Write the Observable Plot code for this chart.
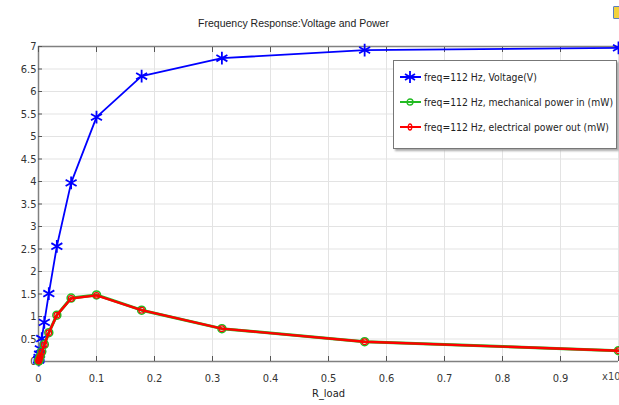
<!DOCTYPE html>
<html>
<head>
<meta charset="utf-8">
<script src="https://cdn.jsdelivr.net/npm/d3@7"></script>
<script src="https://cdn.jsdelivr.net/npm/@observablehq/plot@0.6"></script>
<style>
  html, body { margin: 0; padding: 0; background: #fff; }
  #wrap { position: relative; width: 619px; height: 405px; overflow: hidden; font-family: "DejaVu Sans Condensed", "DejaVu Sans", sans-serif; }
  #legend { position: absolute; left: 393px; top: 60px; width: 222px; height: 87px; background: #fff; border: 1px solid #777; box-shadow: 2px 2px 2px #aaa; font-size: 10.3px; color: #222; }
  .row { position: absolute; left: 6px; height: 14px; display: flex; align-items: center; white-space: nowrap; }
  .row svg { margin-right: 3px; }
  #icon { position: absolute; left: 613px; top: 6px; width: 8px; height: 11px; background: #f2d23c; border: 1px solid #5a7fc0; border-radius: 1px; }
</style>
</head>
<body>
<div id="wrap"></div>
<script>
const title = "Frequency Response:Voltage and Power";
const xLabel = "R_load";
const rLoad = [1, 0.5623, 0.3162, 0.1778, 0.1, 0.05623, 0.03162, 0.01778, 0.01, 0.005623, 0.003162, 0.001778, 0.001, 0.000562, 0.000316];
const voltage = [6.97, 6.92, 6.74, 6.34, 5.43, 3.97, 2.56, 1.51, 0.87, 0.51, 0.28, 0.16, 0.09, 0.05, 0.03];
const mechPower = [0.24, 0.44, 0.73, 1.14, 1.48, 1.41, 1.03, 0.64, 0.38, 0.22, 0.12, 0.07, 0.04, 0.02, 0.01];
const elecPower = [0.24, 0.44, 0.73, 1.14, 1.47, 1.40, 1.03, 0.64, 0.37, 0.21, 0.12, 0.07, 0.04, 0.02, 0.01];
const xTicks = [0, 0.1, 0.2, 0.3, 0.4, 0.5, 0.6, 0.7, 0.8, 0.9];
const xTicksAll = [0, 0.1, 0.2, 0.3, 0.4, 0.5, 0.6, 0.7, 0.8, 0.9, 1];
const yTicks = [0, 0.5, 1, 1.5, 2, 2.5, 3, 3.5, 4, 4.5, 5, 5.5, 6, 6.5, 7];
const legendLabels = ["freq=112 Hz, Voltage(V)", "freq=112 Hz, mechanical power in (mW)", "freq=112 Hz, electrical power out (mW)"];
const colors = ["#0000ff", "#22bb22", "#ff0000"];

const vData = rLoad.map((x, i) => ({x, y: voltage[i]}));
const mData = rLoad.map((x, i) => ({x, y: mechPower[i]}));
const eData = rLoad.map((x, i) => ({x, y: elecPower[i]}));

const chart = Plot.plot({
  width: 619,
  height: 405,
  marginTop: 46,
  marginLeft: 38,
  marginRight: 1,
  marginBottom: 44,
  style: {fontFamily: '"DejaVu Sans Condensed", "DejaVu Sans", sans-serif', fontSize: "11px", color: "#333", background: "#fff"},
  x: {type: "linear", domain: [0, 1], axis: null},
  y: {type: "linear", domain: [0, 7], axis: null},
  marks: [
    Plot.gridX(xTicksAll, {stroke: "#e3e3e3", strokeOpacity: 1}),
    Plot.gridY(yTicks, {stroke: "#e3e3e3", strokeOpacity: 1}),
    Plot.ruleY([0], {stroke: "#808080", strokeWidth: 1.5}),
    Plot.ruleY([7], {stroke: "#808080", strokeWidth: 1.5}),
    Plot.ruleX([0], {stroke: "#808080", strokeWidth: 1.5}),
    Plot.axisX(xTicksAll, {anchor: "bottom", tickSize: -5, label: null, tickFormat: () => "", stroke: "#555"}),
    Plot.axisX(xTicks, {anchor: "bottom", tickSize: 0, tickPadding: 13, label: null, fontSize: 11, tickFormat: d => String(d)}),
    Plot.axisX(xTicksAll, {anchor: "top", tickSize: -5, label: null, tickFormat: () => "", stroke: "#555"}),
    Plot.axisY(yTicks, {anchor: "left", tickSize: -4, tickPadding: 6, label: null, fontSize: 11, tickFormat: d => String(d), stroke: "#555"}),
    Plot.text([xLabel], {frameAnchor: "bottom", dy: 35, fontSize: 11, fill: "#222"}),
    Plot.text(["x10"], {frameAnchor: "bottom-right", textAnchor: "end", dy: 18, dx: 2, fontSize: 11, fill: "#444"}),
    Plot.text([title], {frameAnchor: "top-left", textAnchor: "middle", dx: 255, dy: -27, fontSize: 10.5, fill: "#222", fontFamily: '"Liberation Sans", Arial, sans-serif', letterSpacing: "-0.2px"}),
    Plot.line(vData, {x: "x", y: "y", stroke: colors[0], strokeWidth: 1.8}),
    Plot.dot(vData, {x: "x", y: "y", symbol: "asterisk", r: 6, stroke: colors[0], strokeWidth: 1.8}),
    Plot.line(mData, {x: "x", y: "y", stroke: colors[1], strokeWidth: 3}),
    Plot.dot(mData, {x: "x", y: "y", r: 4, stroke: colors[1], strokeWidth: 1.5, fill: "none"}),
    Plot.line(eData, {x: "x", y: "y", stroke: colors[2], strokeWidth: 2.4}),
    Plot.dot(eData, {x: "x", y: "y", r: 2.8, stroke: colors[2], strokeWidth: 1.2, fill: "none"})
  ]
});
const wrap = document.getElementById("wrap");
wrap.appendChild(chart);

const legend = document.createElement("div");
legend.id = "legend";
const markerSvg = (i) => {
  const c = colors[i];
  let m;
  if (i === 0) {
    m = `<line x1="10" y1="1" x2="10" y2="13" stroke="${c}" stroke-width="1.8"/><line x1="5" y1="4" x2="15" y2="10" stroke="${c}" stroke-width="1.8"/><line x1="5" y1="10" x2="15" y2="4" stroke="${c}" stroke-width="1.8"/>`;
  } else if (i === 1) {
    m = `<circle cx="10" cy="7" r="3" fill="none" stroke="${c}" stroke-width="1.3"/>`;
  } else {
    m = `<ellipse cx="10" cy="7" rx="1.8" ry="3" fill="none" stroke="${c}" stroke-width="1.3"/>`;
  }
  return `<svg width="21" height="14"><line x1="0" y1="7" x2="21" y2="7" stroke="${c}" stroke-width="2"/>${m}</svg>`;
};
legendLabels.forEach((lab, i) => {
  const row = document.createElement("div");
  row.className = "row";
  row.style.top = (9 + i * 25) + "px";
  row.innerHTML = markerSvg(i) + `<span>${lab}</span>`;
  legend.appendChild(row);
});
wrap.appendChild(legend);
const icon = document.createElement("div");
icon.id = "icon";
wrap.appendChild(icon);
</script>
</body>
</html>
